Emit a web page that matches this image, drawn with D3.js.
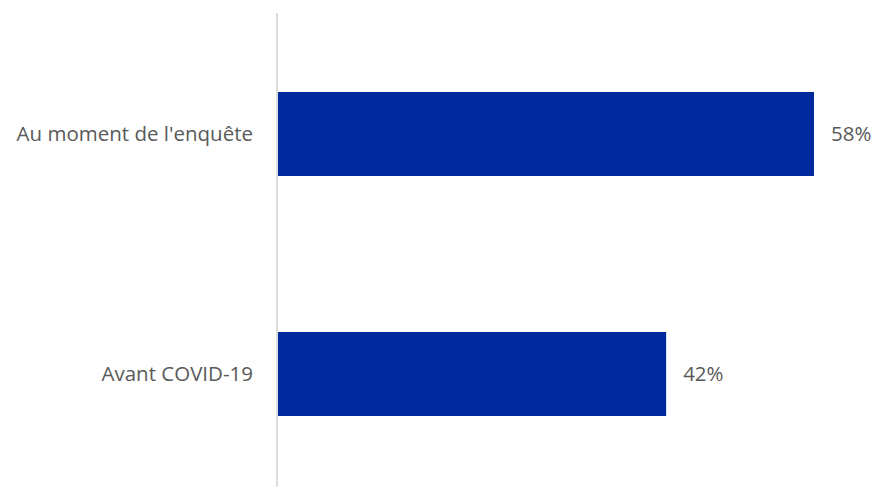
<!DOCTYPE html>
<html>
<head>
<meta charset="utf-8">
<script src="https://cdn.jsdelivr.net/npm/d3@7"></script>
<style>
html,body{margin:0;padding:0;background:#fff;}
svg{display:block;}
text{font-family:"Open Sans",sans-serif;fill:#595959;}
</style>
</head>
<body>
<svg id="chart" width="875" height="487"></svg>
<script>
const categories = ["Au moment de l'enquête", "Avant COVID-19"];
const values = [0.58, 0.42];
const valueLabels = ["58%", "42%"];

const svg = d3.select("#chart");
const x = d3.scaleLinear().domain([0, 0.58]).range([278, 814]);
const y = d3.scaleBand().domain(categories).range([14, 494]).paddingInner(0.65).paddingOuter(0.325);

svg.append("line")
  .attr("x1", 277).attr("x2", 277)
  .attr("y1", 13).attr("y2", 487)
  .attr("stroke", "#d0d0d0").attr("stroke-width", 1.5);

svg.selectAll("rect.bar").data(categories).enter().append("rect")
  .attr("class", "bar")
  .attr("x", x(0))
  .attr("y", d => y(d))
  .attr("width", (d, i) => x(values[i]) - x(0))
  .attr("height", y.bandwidth())
  .attr("fill", "#00299E");

svg.selectAll("text.cat").data(categories).enter().append("text")
  .attr("class", "cat")
  .attr("x", 253)
  .attr("y", d => y(d) + y.bandwidth() / 2)
  .attr("dy", "0.36em")
  .attr("text-anchor", "end")
  .style("font-size", "20.5px")
  .text(d => d);

svg.selectAll("text.val").data(categories).enter().append("text")
  .attr("class", "val")
  .attr("x", (d, i) => x(values[i]) + 17)
  .attr("y", d => y(d) + y.bandwidth() / 2)
  .attr("dy", "0.36em")
  .style("font-size", "20.5px")
  .text((d, i) => valueLabels[i]);
</script>
</body>
</html>
